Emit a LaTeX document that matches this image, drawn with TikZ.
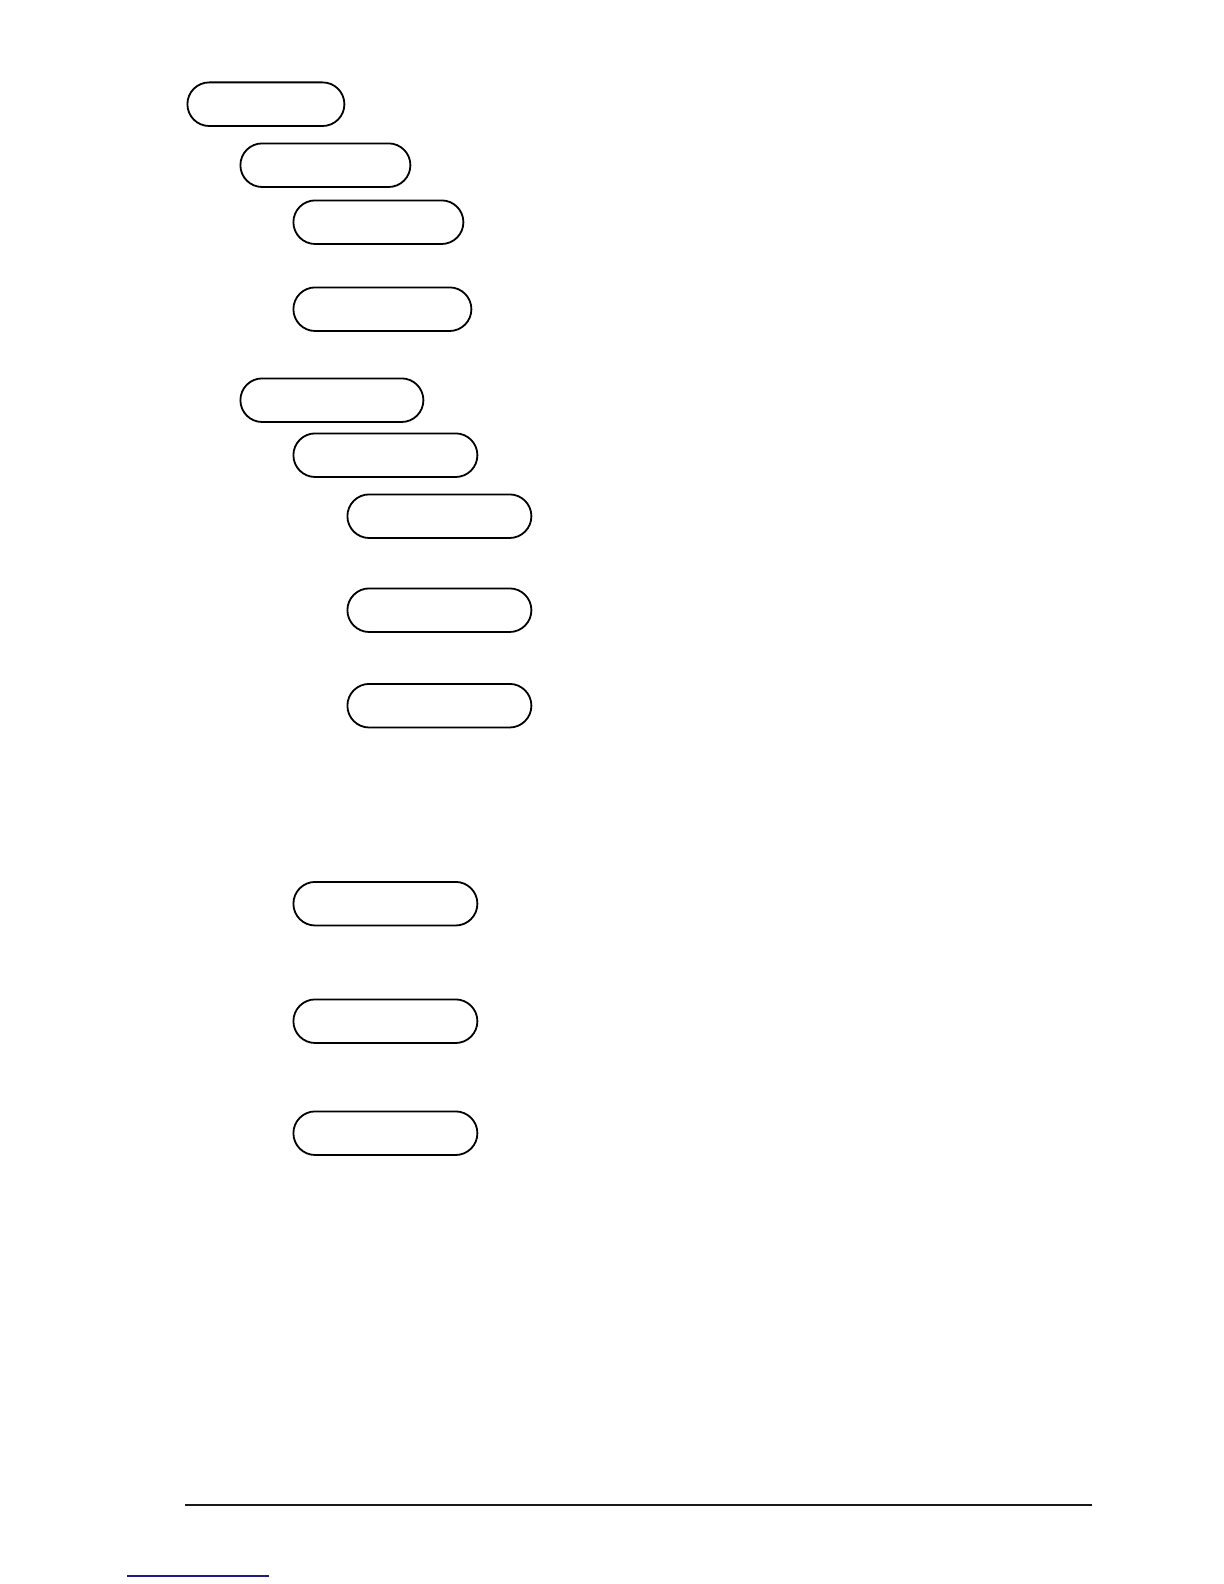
\documentclass[tikz,border=0pt]{standalone}
\usepackage{xcolor}
\usepackage{tikz}
\definecolor{linkblue}{RGB}{28,28,130}
\tikzstyle{pill} = [rectangle, rounded corners=10.9pt, minimum height=21.8pt, inner sep=0pt, draw=black, line width=0.9pt, anchor=north west]
\tikzstyle{rule} = [draw=black!90, line width=1pt]

\begin{document}
\begin{tikzpicture}[x=0.5pt, y=-0.5pt]
      \useasboundingbox (0,0) rectangle (1224,1584);
      \node (top) [pill, minimum width=78.5pt] at (186.5,81.5) {};
      \node (groupa) [pill, minimum width=85pt] at (239.5,142.5) {};
      \node (itema) [pill, minimum width=85pt] at (292.5,199.5) {};
      \node (itemb) [pill, minimum width=89pt] at (292.5,286.5) {};
      \node (groupb) [pill, minimum width=91.5pt] at (239.5,377.5) {};
      \node (sub) [pill, minimum width=92pt] at (292.5,432.5) {};
      \node (leafa) [pill, minimum width=92pt] at (346.5,493.5) {};
      \node (leafb) [pill, minimum width=92pt] at (346.5,587.5) {};
      \node (leafc) [pill, minimum width=92pt] at (346.5,683) {};
      \node (itemc) [pill, minimum width=92pt] at (292.5,881) {};
      \node (itemd) [pill, minimum width=92pt] at (292.5,998.5) {};
      \node (iteme) [pill, minimum width=92pt] at (292.5,1110.5) {};
      \coordinate (footl) at (185,1505);
      \coordinate (footr) at (1092,1505);
      \draw [rule] (footl) -- (footr);
      \coordinate (linkl) at (127,1576);
      \coordinate (linkr) at (269,1576);
      \draw [draw=linkblue, line width=0.6pt] (linkl) -- (linkr);
    \end{tikzpicture}
\end{document}
